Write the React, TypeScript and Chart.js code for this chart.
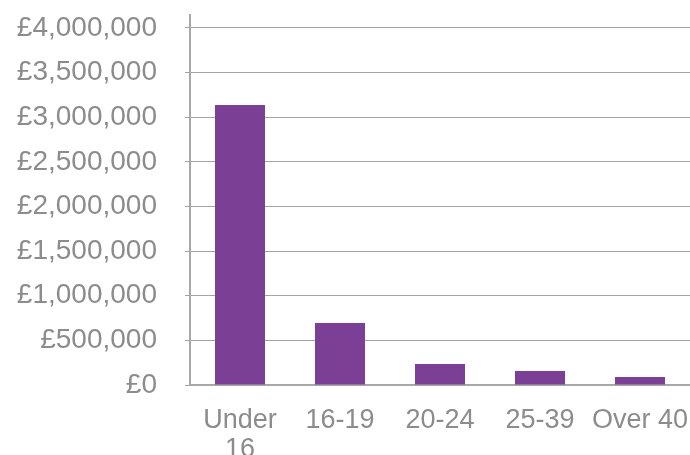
import React, { useEffect, useRef } from "react";
import { Chart, registerables } from "chart.js";

Chart.register(...registerables);

const categories: (string | string[])[] = [["Under", "16"], "16-19", "20-24", "25-39", "Over 40"];
const values: number[] = [3137000, 695000, 235000, 157000, 90000];
const tickStep = 500000;
const tickMax = 4000000;

const fmt = (v: number) => "£" + Math.round(v).toLocaleString("en-GB");
const FONT = "'Liberation Sans', Arial, sans-serif";

export default function App() {
  const ref = useRef<HTMLCanvasElement | null>(null);
  useEffect(() => {
    document.body.style.margin = "0";
    const canvas = ref.current;
    if (!canvas) return;
    const chart = new Chart(canvas, {
      type: "bar",
      data: {
        labels: categories,
        datasets: [
          {
            data: values,
            backgroundColor: "#7B3F96",
            borderWidth: 0,
            barPercentage: 0.5,
            categoryPercentage: 1,
          },
        ],
      },
      options: {
        animation: false,
        responsive: false,
        maintainAspectRatio: false,
        layout: { padding: { left: 0, right: 0, top: 15, bottom: 0 } },
        plugins: { legend: { display: false }, tooltip: { enabled: false } },
        scales: {
          x: {
            grid: { display: false, drawTicks: false },
            border: { display: true, color: "#a8a8a8", width: 2 },
            ticks: {
              color: "#8c8c8c",
              padding: 21,
              maxRotation: 0,
              autoSkip: false,
              font: { family: FONT, size: 27, lineHeight: 1.08 },
            },
            afterFit: (scale: any) => {
              scale.height = 70;
              scale.paddingLeft = 0;
              scale.paddingRight = 0;
            },
          },
          y: {
            min: 0,
            max: 4145000,
            grid: { color: "#a3a3a3", lineWidth: 1, tickLength: 5, tickColor: "#a3a3a3" },
            border: { display: true, color: "#a8a8a8", width: 2 },
            afterBuildTicks: (scale: any) => {
              const t = [];
              for (let v = 0; v <= tickMax; v += tickStep) t.push({ value: v });
              scale.ticks = t;
            },
            ticks: {
              color: "#8c8c8c",
              padding: 28,
              font: { family: FONT, size: 28 },
              callback: (v: any) => fmt(Number(v)),
            },
            afterFit: (scale: any) => {
              scale.width = 190;
              scale.paddingTop = 0;
              scale.paddingBottom = 0;
            },
          },
        },
      },
    });
    return () => chart.destroy();
  }, []);
  return <canvas ref={ref} width={690} height={455} style={{ display: "block", width: 690, height: 455 }} />;
}
